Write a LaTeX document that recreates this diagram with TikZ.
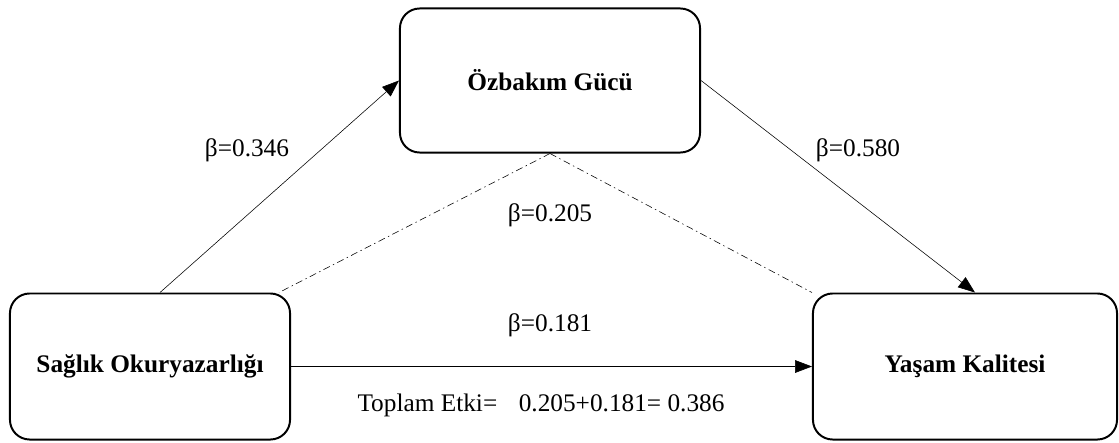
\documentclass[tikz,border=0pt]{standalone}
\usepackage{fontspec}
\setmainfont{Liberation Serif}
\usepackage{tikz}
\usetikzlibrary{arrows.meta}
\tikzset{>/.tip={Triangle[length=12pt,width=9pt]},
  varbox/.style={draw, line width=1.4pt, rounded corners=14pt, font=\fontsize{18}{22}\selectfont\bfseries},
  dashdot/.style={dash pattern=on 5pt off 2.5pt on 1pt off 2.5pt}}

\begin{document}
\begin{tikzpicture}[x=0.025cm, y=-0.025cm, font=\fontsize{18}{22}\selectfont]
\useasboundingbox (0,0) rectangle (1119,442);
\node[varbox, minimum width=7.5cm, minimum height=3.6cm] (ozb) at (550,80.5) {Özbakım Gücü};
\node[varbox, minimum width=7cm, minimum height=3.65cm] (sag) at (150,366.5) {Sağlık Okuryazarlığı};
\node[varbox, minimum width=7.6cm, minimum height=3.65cm] (yas) at (965,366.5) {Yaşam Kalitesi};

\node (b1) at (247,150) {β=0.346};
\node (b2) at (858,150) {β=0.580};
\node (b3) at (550,215) {β=0.205};
\node (b4) at (550,325) {β=0.181};
\node (top) at (541,405) {Toplam Etki=\hspace{0.6em} 0.205+0.181= 0.386};

\draw[->] ([xshift=0.25cm]sag.north) to (ozb.west);
\draw[->] (ozb.east) to ([xshift=0.25cm]yas.north);
\draw[->] (sag.east) to (yas.west);
\draw[dashdot] (ozb.south) to ([xshift=-0.3cm]sag.north east);
\draw[dashdot] (ozb.south) to (yas.north west);
\end{tikzpicture}
\end{document}
